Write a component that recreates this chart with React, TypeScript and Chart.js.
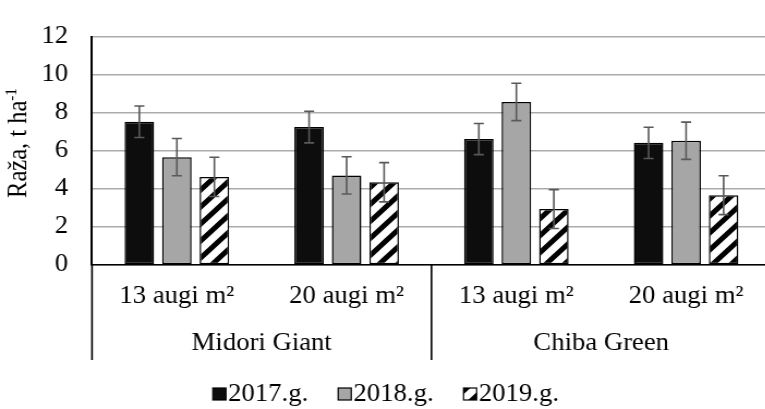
import { useEffect, useRef } from 'react';
import { Chart, registerables } from 'chart.js';

Chart.register(...registerables);

// ---- data ----
const CATEGORIES = ['13 augi m²', '20 augi m²', '13 augi m²', '20 augi m²'];
const GROUPS = ['Midori Giant', 'Chiba Green'];
const SERIES_LABELS = ['2017.g.', '2018.g.', '2019.g.'];
const Y2017 = [7.53, 7.25, 6.62, 6.42];
const Y2018 = [5.67, 4.71, 8.57, 6.53];
const Y2019 = [4.63, 4.35, 2.94, 3.67];
const E2017 = [0.83, 0.83, 0.82, 0.82];
const E2018 = [0.98, 0.98, 0.98, 0.98];
const E2019 = [1.03, 1.03, 1.02, 1.02];
const Y_TICKS = [0, 2, 4, 6, 8, 10, 12];
const Y_TITLE = 'Raža, t ha';
const Y_TITLE_SUP = '-1';

// ---- layout / style ----
const SX = 1.09; // horizontal stretch of the reference
const CW = 720;
const CH = 409;
const FS = 24.5;
const FONT_FAMILY = '"Liberation Serif", "Times New Roman", serif';

function makeHatch(): CanvasPattern | string {
  const s = 17;
  const c = document.createElement('canvas');
  c.width = s;
  c.height = s;
  const g = c.getContext('2d');
  if (!g) return '#fff';
  g.fillStyle = '#fff';
  g.fillRect(0, 0, s, s);
  g.strokeStyle = '#000';
  g.lineWidth = 5;
  g.beginPath();
  for (const o of [-s, 0, s]) {
    g.moveTo(o - 3, s + 3);
    g.lineTo(o + s + 3, -3);
  }
  g.stroke();
  const p = g.createPattern(c, 'repeat');
  return p || '#fff';
}

const errorBarsPlugin = {
  id: 'errorBars',
  afterDatasetsDraw(chart: any) {
    const ctx = chart.ctx;
    const y = chart.scales.y;
    const errs = [E2017, E2018, E2019];
    ctx.save();
    ctx.strokeStyle = '#595959';
    ctx.lineWidth = 1.6;
    errs.forEach((err, i) => {
      const meta = chart.getDatasetMeta(i);
      const vals = chart.data.datasets[i].data as number[];
      meta.data.forEach((bar: any, j: number) => {
        const top = y.getPixelForValue(vals[j] + err[j]);
        const bot = y.getPixelForValue(vals[j] - err[j]);
        const cap = 4.6;
        ctx.beginPath();
        ctx.moveTo(bar.x, top);
        ctx.lineTo(bar.x, bot);
        ctx.moveTo(bar.x - cap, top);
        ctx.lineTo(bar.x + cap, top);
        ctx.moveTo(bar.x - cap, bot);
        ctx.lineTo(bar.x + cap, bot);
        ctx.stroke();
      });
    });
    ctx.restore();
  },
};

const decorPlugin = {
  id: 'decor',
  afterDraw(chart: any) {
    const ctx = chart.ctx;
    const area = chart.chartArea;
    const x = chart.scales.x;
    ctx.save();
    // group separators
    ctx.strokeStyle = '#000';
    ctx.lineWidth = 1.6;
    const mid = (x.getPixelForValue(1) + x.getPixelForValue(2)) / 2;
    const bottom = 360;
    for (const px of [area.left, mid, area.right]) {
      ctx.beginPath();
      ctx.moveTo(px, area.bottom);
      ctx.lineTo(px, bottom);
      ctx.stroke();
    }
    // y axis title with superscript
    ctx.translate(23.5, 143);
    ctx.rotate(-Math.PI / 2);
    ctx.fillStyle = '#000';
    ctx.textBaseline = 'alphabetic';
    ctx.textAlign = 'left';
    ctx.font = `${FS}px ${FONT_FAMILY}`;
    const w1 = ctx.measureText(Y_TITLE).width;
    const supSize = FS * 0.62;
    ctx.font = `${supSize}px ${FONT_FAMILY}`;
    const w2 = ctx.measureText(Y_TITLE_SUP).width;
    const start = -(w1 + w2) / 2;
    ctx.font = `${FS}px ${FONT_FAMILY}`;
    ctx.fillText(Y_TITLE, start, 0);
    ctx.font = `${supSize}px ${FONT_FAMILY}`;
    ctx.fillText(Y_TITLE_SUP, start + w1, -FS * 0.36);
    ctx.restore();
  },
};

const legendPlugin = {
  id: 'customLegend',
  afterDraw(chart: any) {
    const ctx = chart.ctx;
    ctx.save();
    ctx.font = `${FS}px ${FONT_FAMILY}`;
    const box = 12;
    const gap = 2;
    const itemGap = 27.5;
    const cx = 354;
    const cy = 394;
    const items = chart.data.datasets.map((ds: any) => ({
      label: ds.label as string,
      fill: ds.backgroundColor,
      w: ctx.measureText(ds.label).width,
    }));
    const total =
      items.reduce((s: number, it: any) => s + box + gap + it.w, 0) + itemGap * (items.length - 1);
    let xx = cx - total / 2;
    items.forEach((it: any) => {
      ctx.fillStyle = it.fill;
      ctx.fillRect(xx, cy - box / 2, box, box);
      ctx.strokeStyle = '#000';
      ctx.lineWidth = 1.2;
      ctx.strokeRect(xx, cy - box / 2, box, box);
      ctx.fillStyle = '#000';
      ctx.textBaseline = 'middle';
      ctx.textAlign = 'left';
      ctx.fillText(it.label, xx + box + gap, cy + 1);
      xx += box + gap + it.w + itemGap;
    });
    ctx.restore();
  },
};

export default function App() {
  const ref = useRef<HTMLCanvasElement | null>(null);

  useEffect(() => {
    if (!ref.current) return;
    const hatch = makeHatch();
    const tickFont = { family: FONT_FAMILY, size: FS };
    const chart = new Chart(ref.current, {
      type: 'bar',
      data: {
        labels: CATEGORIES,
        datasets: [
          {
            label: SERIES_LABELS[0],
            data: Y2017,
            backgroundColor: '#0d0d0d',
            borderColor: '#000',
            borderWidth: 1.5,
            borderSkipped: false,
          },
          {
            label: SERIES_LABELS[1],
            data: Y2018,
            backgroundColor: '#a6a6a6',
            borderColor: '#000',
            borderWidth: 1.5,
            borderSkipped: false,
          },
          {
            label: SERIES_LABELS[2],
            data: Y2019,
            backgroundColor: hatch as any,
            borderColor: '#000',
            borderWidth: 1.5,
            borderSkipped: false,
          },
        ],
      },
      options: {
        responsive: false,
        animation: false,
        devicePixelRatio: 1,
        categoryPercentage: 0.663,
        barPercentage: 0.787,
        layout: { padding: { top: 23, bottom: 44, left: 0, right: CW - 707.3 } },
        plugins: {
          legend: { display: false },
          tooltip: { enabled: false },
        },
        scales: {
          x: {
            type: 'category',
            position: 'bottom',
            weight: 0,
            offset: true,
            grid: { display: true, drawOnChartArea: false, drawTicks: false },
            border: { display: true, color: '#000', width: 1.6 },
            ticks: {
              font: tickFont,
              color: '#000',
              padding: 17,
              autoSkip: false,
              maxRotation: 0,
              minRotation: 0,
            },
            afterFit: (s: any) => {
              s.height = 50;
            },
          },
          x2: {
            type: 'category',
            position: 'bottom',
            weight: 1,
            labels: GROUPS,
            offset: true,
            grid: { display: false, drawOnChartArea: false, drawTicks: false },
            border: { display: false },
            ticks: {
              font: tickFont,
              color: '#000',
              padding: 14,
              autoSkip: false,
              maxRotation: 0,
              minRotation: 0,
            },
            afterFit: (s: any) => {
              s.height = 50;
            },
          },
          y: {
            min: 0,
            max: 12,
            grid: { color: '#ababab', lineWidth: 1.5, drawTicks: false },
            border: { display: true, color: '#000', width: 2 },
            ticks: {
              font: tickFont,
              color: '#000',
              padding: 22,
              stepSize: 2,
            },
            afterBuildTicks: (s: any) => {
              s.ticks = Y_TICKS.map((v) => ({ value: v }));
            },
            afterFit: (s: any) => {
              s.width = 84.4;
            },
          },
        },
      },
      plugins: [errorBarsPlugin, decorPlugin, legendPlugin],
    } as any);
    return () => chart.destroy();
  }, []);

  return (
    <div
      style={{
        position: 'fixed',
        left: 0,
        top: 0,
        width: 765,
        height: 409,
        overflow: 'hidden',
        background: '#fff',
      }}
    >
      <div style={{ width: CW, height: CH, transform: `scaleX(${SX})`, transformOrigin: '0 0' }}>
        <canvas ref={ref} width={CW} height={CH} style={{ display: 'block' }} />
      </div>
    </div>
  );
}
